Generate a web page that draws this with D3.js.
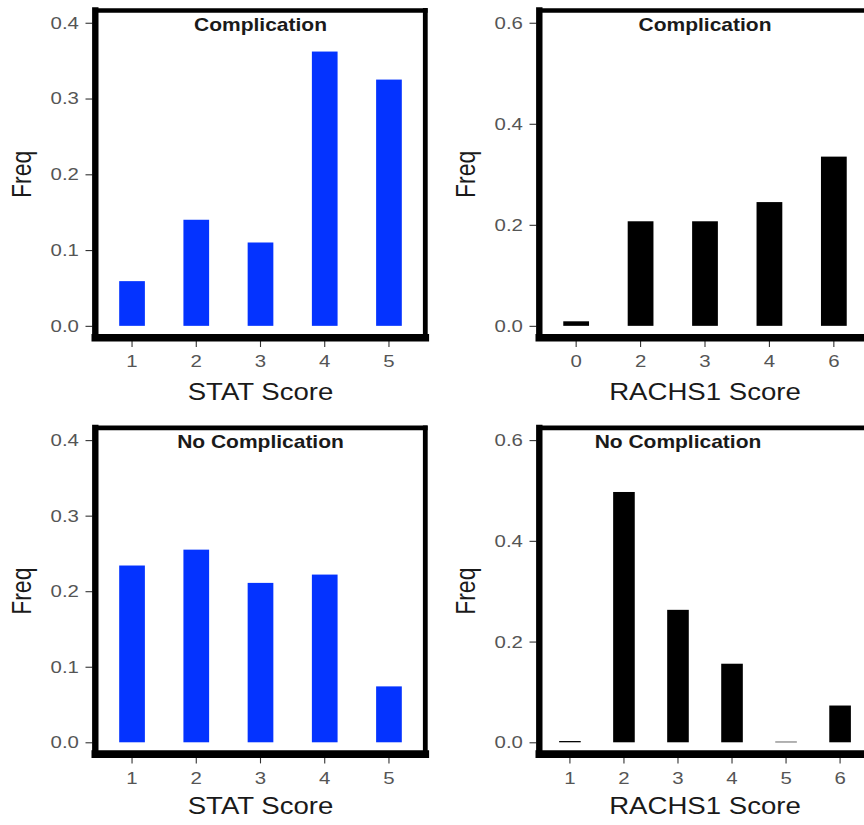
<!DOCTYPE html>
<html>
<head>
<meta charset="utf-8">
<script src="https://cdn.jsdelivr.net/npm/d3@7"></script>
<style>
  html, body { margin: 0; padding: 0; background: #fff; }
  svg { display: block; }
</style>
</head>
<body>
<script>
// Frequency distributions of STAT and RACHS1 scores, split by complication status
const statCategories = ["1", "2", "3", "4", "5"];
const statComplication = [0.059, 0.140, 0.110, 0.362, 0.325];
const statNoComplication = [0.234, 0.255, 0.211, 0.222, 0.074];

const rachsCategoriesComplication = ["0", "2", "3", "4", "6"];
const rachsComplication = [0.009, 0.207, 0.207, 0.245, 0.335];
const rachsCategoriesNoComplication = ["1", "2", "3", "4", "5", "6"];
const rachsNoComplication = [0.0025, 0.497, 0.263, 0.156, 0.0012, 0.073];

const statTicks = [0, 0.1, 0.2, 0.3, 0.4];
const rachsTicks = [0, 0.2, 0.4, 0.6];

const panelTitles = ["Complication", "No Complication"];
const xTitles = ["STAT Score", "RACHS1 Score"];
const yTitle = "Freq";

const W = 864, H = 825;
const TEXT_STRETCH = 1.2;   // glyphs are drawn a little wider than tall
const FONT = "'Liberation Sans', Arial, Helvetica, sans-serif";

const svg = d3.select("body").append("svg")
  .attr("width", W).attr("height", H)
  .style("font-family", FONT);

const columns = [
  { x0: 93.5, x1: 427.5, color: "#0433ff", ticks: statTicks, xTitle: xTitles[0] },
  { x0: 537.5, x1: 872.5, color: "#000000", ticks: rachsTicks, xTitle: xTitles[1] }
];
const rows = [
  { yTop: 7.6, yBot: 341, xTitleY: 399.5, title: panelTitles[0] },
  { yTop: 425, yBot: 757.4, xTitleY: 813.5, title: panelTitles[1] }
];

const panels = [
  { col: 0, row: 0, cats: statCategories, values: statComplication },
  { col: 1, row: 0, cats: rachsCategoriesComplication, values: rachsComplication },
  { col: 0, row: 1, cats: statCategories, values: statNoComplication },
  { col: 1, row: 1, cats: rachsCategoriesNoComplication, values: rachsNoComplication }
];

panels.forEach(p => {
  const c = columns[p.col], r = rows[p.row];
  const top = d3.max(c.ticks);
  const pad = top * 0.05;

  const x = d3.scaleBand()
    .domain(p.cats)
    .range([c.x0, c.x1])
    .paddingInner(0.6)
    .paddingOuter(0.4);

  const y = d3.scaleLinear()
    .domain([-pad, top + pad])
    .range([r.yBot, r.yTop]);

  const g = svg.append("g");

  // bars
  g.selectAll("rect.bar")
    .data(p.cats.map((k, i) => ({ k, v: p.values[i] })))
    .join("rect")
    .attr("class", "bar")
    .attr("x", d => x(d.k))
    .attr("width", x.bandwidth())
    .attr("y", d => y(d.v))
    .attr("height", d => y(0) - y(d.v))
    .attr("fill", c.color);

  // y axis
  const yAxis = g.append("g")
    .attr("transform", `translate(${c.x0 - 1},0)`)
    .call(d3.axisLeft(y).tickValues(c.ticks).tickFormat(d3.format(".1f"))
      .tickSize(7).tickPadding(4.3));
  yAxis.select(".domain").remove();
  yAxis.selectAll(".tick line").attr("stroke", "#333").attr("stroke-width", 1.1);
  yAxis.selectAll(".tick text")
    .attr("fill", "#555")
    .style("font-size", "17px")
    .attr("transform", `scale(${TEXT_STRETCH},1)`);

  // x axis
  const xAxis = g.append("g")
    .attr("transform", `translate(0,${r.yBot})`)
    .call(d3.axisBottom(x).tickSize(6).tickPadding(8.4));
  xAxis.select(".domain").remove();
  xAxis.selectAll(".tick line").attr("stroke", "#333").attr("stroke-width", 1.1);
  xAxis.selectAll(".tick text")
    .attr("fill", "#555")
    .style("font-size", "17px")
    .attr("transform", `scale(${TEXT_STRETCH},1)`);

  // panel frame: heavier on the axis sides
  const frame = g.append("g").attr("stroke", "#000").attr("stroke-linecap", "square");
  const L = c.x0 + 1.8, R = c.x1 - 2.2, T = r.yTop + 2.9, B = r.yBot - 3.3;
  frame.append("line").attr("x1", L).attr("x2", R).attr("y1", T).attr("y2", T).attr("stroke-width", 4.6);
  frame.append("line").attr("x1", R).attr("x2", R).attr("y1", T).attr("y2", B).attr("stroke-width", 4.8);
  frame.append("line").attr("x1", L).attr("x2", L).attr("y1", T).attr("y2", B).attr("stroke-width", 6.4);
  frame.append("line").attr("x1", L).attr("x2", R).attr("y1", B).attr("y2", B).attr("stroke-width", 7.6);

  // panel label, placed over the third category at the top tick
  const lx = x(p.cats[2]) + x.bandwidth() / 2;
  g.append("text")
    .attr("transform", `translate(${lx},${y(top) + 7.8}) scale(${TEXT_STRETCH},1)`)
    .attr("text-anchor", "middle")
    .style("font-size", "17.5px")
    .style("font-weight", "bold")
    .attr("fill", "#1a1a1a")
    .text(r.title);

  // axis titles
  g.append("text")
    .attr("transform", `translate(${(c.x0 + c.x1) / 2},${r.xTitleY}) scale(${TEXT_STRETCH},1)`)
    .attr("text-anchor", "middle")
    .style("font-size", "23px")
    .attr("fill", "#1a1a1a")
    .text(c.xTitle);

  g.append("text")
    .attr("transform", `translate(${c.x0 - 63},${(r.yTop + r.yBot) / 2}) scale(${TEXT_STRETCH},1) rotate(-90)`)
    .attr("text-anchor", "middle")
    .style("font-size", "23px")
    .attr("fill", "#1a1a1a")
    .text(yTitle);
});
</script>
</body>
</html>
